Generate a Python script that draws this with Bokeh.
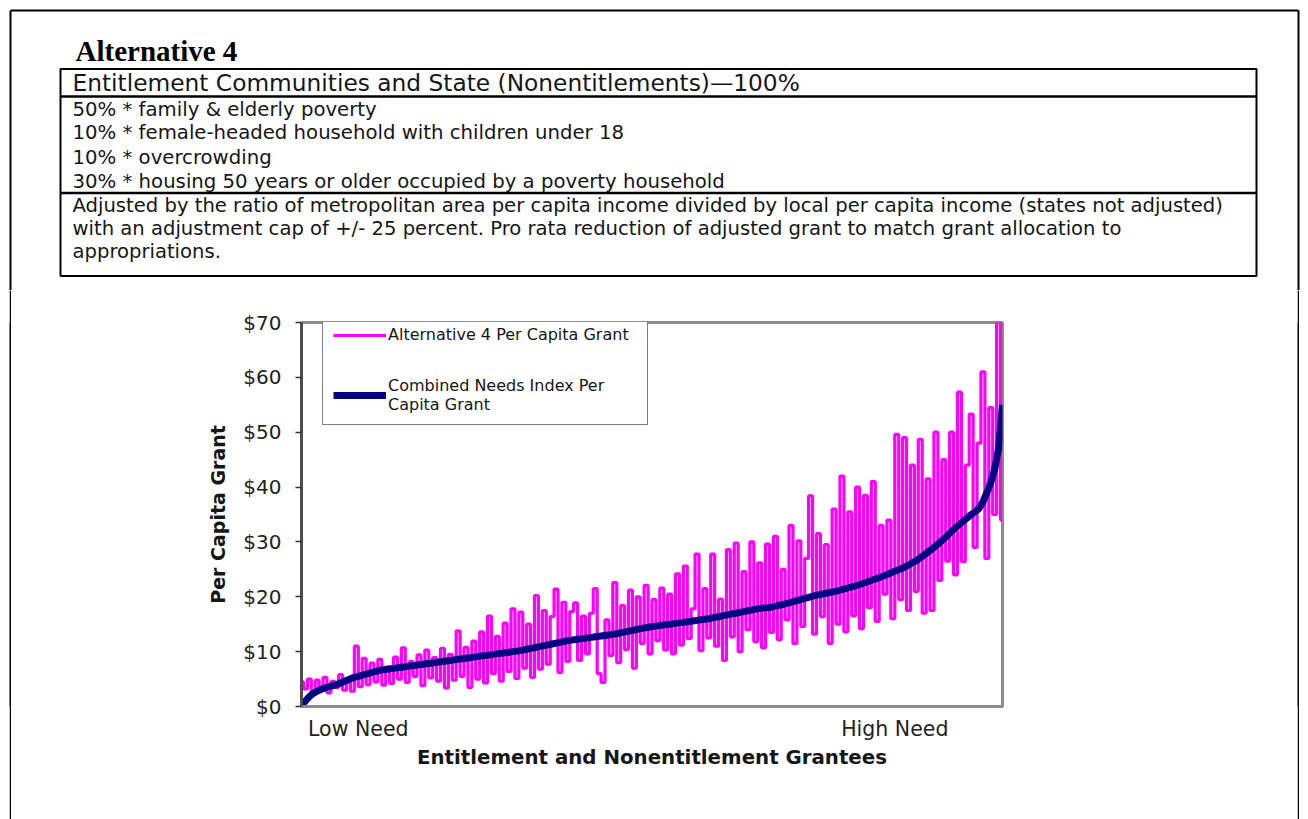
from bokeh.plotting import figure
from bokeh.models import Range1d, FixedTicker, PrintfTickFormatter, Legend, LegendItem, Spacer
from bokeh.layouts import column, row
from bokeh.core.properties import value
from bokeh.embed import file_html
from bokeh.resources import INLINE

# ---------------- data ----------------
title_text = "Alternative 4"
header_row = "Entitlement Communities and State (Nonentitlements)\u2014100%"
factor_lines = [
    "50% * family & elderly poverty",
    "10% * female-headed household with children under 18",
    "10% * overcrowding",
    "30% * housing 50 years or older occupied by a poverty household",
]
note_lines = [
    "Adjusted by the ratio of metropolitan area per capita income divided by local per capita income (states not adjusted)",
    "with an adjustment cap of +/- 25 percent. Pro rata reduction of adjusted grant to match grant allocation to",
    "appropriations.",
]

series_alt4 = "Alternative 4 Per Capita Grant"
series_cni = "Combined Needs Index Per\nCapita Grant"

alt4_grant = [
    4.5, 3.2, 5.0, 2.6, 4.8, 3.0, 5.3, 2.5, 4.6, 3.5,
    5.8, 3.0, 4.4, 2.8, 11.0, 3.6, 8.8, 4.0, 7.9, 4.5,
    8.6, 3.9, 7.2, 4.2, 9.0, 5.0, 10.7, 4.4, 8.2, 5.5,
    9.4, 3.8, 10.3, 5.2, 8.9, 4.6, 10.6, 3.4, 9.5, 4.8,
    13.8, 5.5, 10.8, 3.5, 11.9, 5.0, 13.6, 4.3, 16.5, 6.0,
    12.8, 4.6, 15.2, 6.4, 17.8, 5.1, 17.2, 7.0, 15.0, 5.3,
    20.2, 6.8, 17.5, 7.7, 16.4, 21.4, 6.2, 19.0, 8.2, 17.3,
    18.9, 8.4, 16.5, 9.6, 17.0, 21.5, 6.0, 4.4, 15.8, 9.3,
    22.6, 8.0, 18.4, 10.4, 21.2, 7.0, 20.0, 11.5, 22.1, 9.6,
    19.5, 12.0, 21.6, 10.3, 20.5, 9.6, 24.2, 11.2, 25.6, 12.4,
    17.8, 27.8, 10.2, 21.5, 12.5, 27.8, 11.0, 19.6, 8.4, 28.6,
    12.7, 29.8, 10.0, 24.6, 14.0, 30.0, 11.8, 26.2, 10.7, 29.6,
    13.5, 31.0, 12.2, 25.0, 15.8, 33.0, 11.5, 30.2, 14.6, 27.0,
    38.4, 13.2, 31.5, 16.4, 29.5, 11.5, 36.0, 15.0, 42.0, 13.6,
    35.5, 16.5, 40.0, 14.2, 38.5, 18.0, 41.0, 15.5, 33.0, 20.5,
    34.0, 16.0, 49.6, 19.5, 49.0, 17.5, 44.0, 21.0, 48.7, 17.0,
    41.5, 17.5, 50.0, 23.0, 45.0, 26.5, 50.0, 24.0, 57.3, 26.4,
    44.0, 53.3, 29.0, 48.0, 61.0, 27.0, 54.5, 35.0, 70.0, 34.0,
]

cni_grant = [
    0.3, 1.0, 1.8, 2.4, 2.8, 3.1, 3.4, 3.6, 3.8, 4.0,
    4.3, 4.6, 4.9, 5.2, 5.4, 5.6, 5.8, 6.0, 6.2, 6.4,
    6.6, 6.7, 6.8, 6.9, 7.0, 7.1, 7.2, 7.3, 7.4, 7.5,
    7.6, 7.7, 7.8, 7.9, 8.0, 8.1, 8.2, 8.3, 8.4, 8.5,
    8.6, 8.7, 8.8, 8.9, 9.0, 9.1, 9.2, 9.3, 9.4, 9.5,
    9.6, 9.7, 9.8, 9.9, 10.0, 10.1, 10.2, 10.35, 10.5, 10.65,
    10.8, 10.95, 11.1, 11.25, 11.4, 11.55, 11.7, 11.85, 12.0, 12.1,
    12.2, 12.3, 12.4, 12.5, 12.6, 12.7, 12.8, 12.9, 13.0, 13.1,
    13.2, 13.35, 13.5, 13.65, 13.8, 13.95, 14.1, 14.25, 14.4, 14.5,
    14.6, 14.7, 14.8, 14.9, 15.0, 15.1, 15.2, 15.3, 15.4, 15.5,
    15.6, 15.7, 15.8, 15.9, 16.0, 16.15, 16.3, 16.45, 16.6, 16.75,
    16.9, 17.0, 17.15, 17.3, 17.45, 17.6, 17.75, 17.85, 17.95, 18.0,
    18.1, 18.3, 18.45, 18.6, 18.8, 19.0, 19.2, 19.4, 19.6, 19.8,
    20.0, 20.2, 20.35, 20.5, 20.65, 20.8, 20.95, 21.1, 21.3, 21.5,
    21.7, 21.9, 22.1, 22.35, 22.6, 22.85, 23.1, 23.35, 23.6, 23.9,
    24.2, 24.5, 24.8, 25.1, 25.4, 25.8, 26.2, 26.6, 27.1, 27.6,
    28.2, 28.7, 29.3, 29.9, 30.5, 31.2, 31.9, 32.6, 33.2, 33.8,
    34.4, 35.0, 35.5, 36.1, 37.3, 39.0, 40.8, 43.3, 47.0, 55.0,
]

grantee_rank = list(range(len(cni_grant)))

y_ticks = [0, 10, 20, 30, 40, 50, 60, 70]
x_tick_positions = [14.5, 151.5]
x_tick_labels = ["Low Need", "High Need"]

SANS = "DejaVu Sans"
SERIF = "Liberation Serif"
INK = "#161616"

PAGE_W = 1308
HEAD_H = 290
LOW_H = 529

# ---------------- header (title + table) ----------------
header = figure(width=PAGE_W, height=HEAD_H, x_range=Range1d(0, PAGE_W), y_range=Range1d(HEAD_H, 0),
                output_backend="svg", toolbar_location=None, tools="",
                x_axis_type=None, y_axis_type=None, min_border=0,
                outline_line_color=None, background_fill_color="white",
                border_fill_color="white")

# page border (top, left, right)
header.segment(x0=[10, 10, 1298], y0=[10, 10, 10], x1=[1298, 10, 1298], y1=[10, HEAD_H, HEAD_H],
               line_color="black", line_width=2)
# table box
header.quad(left=[60], right=[1256], top=[68.5], bottom=[275.5], fill_color=None,
            line_color="black", line_width=2)
header.segment(x0=[60, 60], y0=[96, 192.5], x1=[1256, 1256], y1=[96, 192.5],
               line_color="black", line_width=2.5)

header.text(x=[75], y=[50], text=[title_text], text_font=value(SERIF),
            text_font_style="bold", text_font_size=value("29px"), text_color="black",
            text_baseline="alphabetic", text_align="left")
header.text(x=[72], y=[82], text=[header_row], text_font=value(SANS),
            text_font_size=value("23.3px"), text_color=INK,
            text_baseline="alphabetic", text_align="left")
header.text(x=[72] * len(factor_lines), y=[109, 132, 157, 181], text=factor_lines,
            text_font=value(SANS), text_font_size=value("19.7px"), text_color=INK,
            text_baseline="alphabetic", text_align="left")
header.text(x=[72] * len(note_lines), y=[205, 228, 251], text=note_lines,
            text_font=value(SANS), text_font_size=value("19.6px"), text_color=INK,
            text_baseline="alphabetic", text_align="left")


# ---------------- lower row ----------------
def bar_fig(w):
    f = figure(width=w, height=LOW_H, output_backend="svg", toolbar_location=None, tools="",
               x_axis_type=None, y_axis_type=None, min_border=0,
               outline_line_color=None, background_fill_color="black",
               border_fill_color="black")
    return f


p = figure(width=900, height=LOW_H, x_range=Range1d(0, len(cni_grant) - 1), y_range=Range1d(0, 70),
           output_backend="svg", toolbar_location=None, tools="",
           min_border_left=101, min_border_right=98, min_border_top=32, min_border_bottom=LOW_H - 416,
           background_fill_color="white", border_fill_color="white")
p.outline_line_color = "#8c8c8c"
p.outline_line_width = 3
p.grid.visible = False

r_alt = p.step(grantee_rank, alt4_grant, mode="center", line_color="#ff00ff", line_width=3.2)
r_cni = p.line(grantee_rank, cni_grant, line_color="#000080", line_width=7, line_join="round")

# y axis
p.yaxis.ticker = FixedTicker(ticks=y_ticks)
p.yaxis.formatter = PrintfTickFormatter(format="$%d")
p.yaxis.axis_label = "Per Capita Grant"
p.yaxis.axis_label_text_font = SANS
p.yaxis.axis_label_text_font_style = "bold"
p.yaxis.axis_label_text_font_size = "19px"
p.yaxis.axis_label_text_color = INK
p.yaxis.axis_label_standoff = 11
p.yaxis.major_label_text_font = SANS
p.yaxis.major_label_text_font_size = "20px"
p.yaxis.major_label_text_color = "#222222"
p.yaxis.major_label_standoff = 14
p.yaxis.major_tick_out = 6
p.yaxis.major_tick_in = 0
p.yaxis.major_tick_line_color = "#333333"
p.yaxis.major_tick_line_width = 1.5
p.yaxis.minor_tick_line_color = None
p.yaxis.axis_line_color = "#4d4d4d"
p.yaxis.axis_line_width = 3

# x axis
p.xaxis.ticker = FixedTicker(ticks=x_tick_positions)
p.xaxis.major_label_overrides = {t: s for t, s in zip(x_tick_positions, x_tick_labels)}
p.xaxis.axis_label = "Entitlement and Nonentitlement Grantees"
p.xaxis.axis_label_text_font = SANS
p.xaxis.axis_label_text_font_style = "bold"
p.xaxis.axis_label_text_font_size = "19.8px"
p.xaxis.axis_label_text_color = INK
p.xaxis.axis_label_standoff = 2
p.xaxis.major_label_text_font = SANS
p.xaxis.major_label_text_font_size = "20.5px"
p.xaxis.major_label_text_color = "#222222"
p.xaxis.major_label_standoff = 10
p.xaxis.major_tick_line_color = None
p.xaxis.major_tick_out = 0
p.xaxis.major_tick_in = 0
p.xaxis.minor_tick_line_color = None
p.xaxis.axis_line_color = "#8c8c8c"
p.xaxis.axis_line_width = 3

legend = Legend(items=[LegendItem(label=series_alt4, renderers=[r_alt]),
                       LegendItem(label=series_cni, renderers=[r_cni])],
                location=(21, 281))
legend.border_line_color = "black"
legend.border_line_width = 1.5
legend.background_fill_color = "white"
legend.background_fill_alpha = 1.0
legend.label_text_font = SANS
legend.label_text_font_size = "16px"
legend.label_text_color = INK
legend.glyph_width = 53
legend.glyph_height = 16
legend.label_standoff = 2
legend.label_height = 16
legend.label_width = 249
legend.padding = 10
legend.spacing = 32
legend.margin = 0
p.add_layout(legend, "center")

lower = row(Spacer(width=9, height=LOW_H), bar_fig(2), Spacer(width=189, height=LOW_H), p,
            Spacer(width=197, height=LOW_H), bar_fig(2), Spacer(width=9, height=LOW_H))
layout = column(header, lower)

open("out.html", "w").write(file_html(layout, INLINE))
